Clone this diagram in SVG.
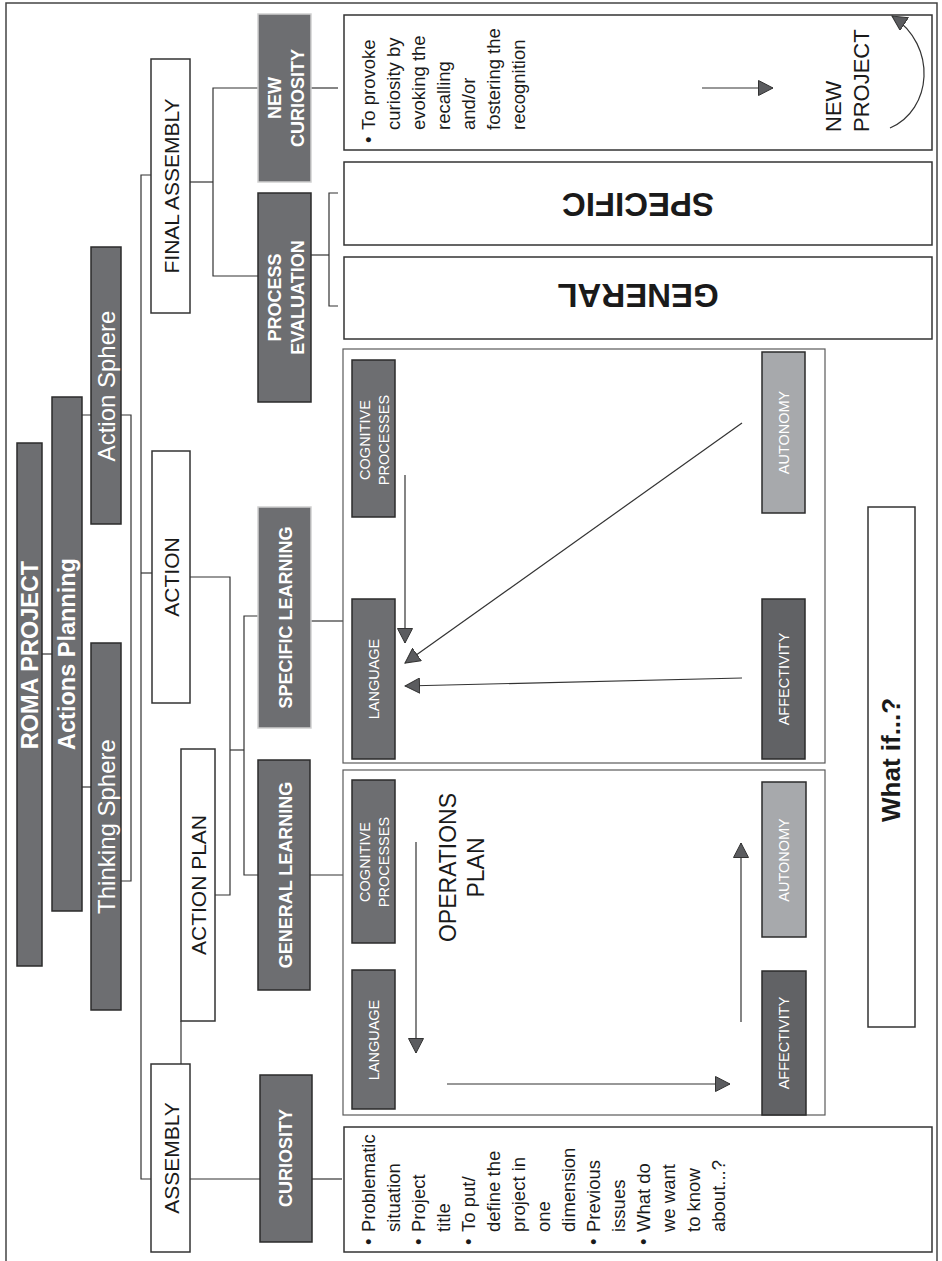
<svg xmlns="http://www.w3.org/2000/svg" width="942" height="1261" viewBox="0 0 942 1261">
<defs>
<style>
.dk{fill:#6d6e71;stroke:#2b2b2b;stroke-width:1.5}
.dkl{fill:#6d6e71;stroke:#cfcfcf;stroke-width:1.5}
.af{fill:#616265;stroke:#2b2b2b;stroke-width:1.5}
.lt{fill:#a7a9ac;stroke:#2b2b2b;stroke-width:1.5}
.wb{fill:#fff;stroke:#333;stroke-width:1.5}
.pn{fill:#fff;stroke:#5a5a5a;stroke-width:1.2}
.cn{fill:none;stroke:#333;stroke-width:1.2}
.ar{fill:none;stroke:#333;stroke-width:1.2;marker-end:url(#ah)}
text{font-family:"Liberation Sans",Arial,Helvetica,sans-serif}
.t1{font-size:23.5px;font-weight:bold;fill:#fff}
.t2{font-size:24px;fill:#fff}
.t3{font-size:21px;fill:#1a1a1a}
.t4{font-size:18px;font-weight:bold;fill:#fff}
.t5{font-size:14.5px;fill:#fff}
.t6{font-size:18.5px;fill:#1a1a1a}
.t7{font-size:33px;font-weight:bold;fill:#1a1a1a}
.t8{font-size:22px;fill:#1a1a1a}
.t9{font-size:23px;fill:#1a1a1a}
.t10{font-size:26px;font-weight:bold;fill:#1a1a1a}
</style>
<marker id="ah" viewBox="0 0 16 16" markerWidth="16" markerHeight="16" refX="15" refY="8" orient="auto" markerUnits="userSpaceOnUse">
<path d="M0.5,0.5 L15,8 L0.5,15.5 Z" fill="#5b5c5f" stroke="#333" stroke-width="1"/>
</marker>
</defs>
<rect x="6" y="3" width="931" height="1262" fill="#fff" stroke="#444" stroke-width="1.5"/>

<g id="connectors">
<path class="cn" d="M42 654 H52"/>
<path class="cn" d="M82 787 H91"/>
<path class="cn" d="M82 415 H131 V881 H121"/>
<path class="cn" d="M151 175 H141 V1179 H151"/>
<path class="cn" d="M141 573 H152"/>
<path class="cn" d="M181 1021 V1064"/>
<path class="cn" d="M190 577 H230 V895 H215"/>
<path class="cn" d="M230 750 H244"/>
<path class="cn" d="M258 616 H244 V875 H258"/>
<path class="cn" d="M311 621 H343"/>
<path class="cn" d="M310 875 H343"/>
<path class="cn" d="M190 1179 H260"/>
<path class="cn" d="M312 1179 H342"/>
<path class="cn" d="M190 182 H213"/>
<path class="cn" d="M258 88 H213 V276 H258"/>
<path class="cn" d="M311 88 H338"/>
<path class="cn" d="M310 255 H329"/>
<path class="cn" d="M338 193 H329 V306 H338"/>
</g>

<g id="roma-project">
<rect class="dk" x="17" y="443" width="25" height="523"/>
<text class="t1" transform="translate(38,655) rotate(-90)" text-anchor="middle">ROMA PROJECT</text>
</g>
<g id="actions-planning">
<rect class="dk" x="52" y="397" width="30" height="514"/>
<text class="t1" transform="translate(75,654) rotate(-90)" text-anchor="middle">Actions Planning</text>
</g>
<g id="thinking-sphere">
<rect class="dk" x="91" y="643" width="30" height="367"/>
<text class="t2" transform="translate(115,826.5) rotate(-90)" text-anchor="middle">Thinking Sphere</text>
</g>
<g id="action-sphere">
<rect class="dk" x="91" y="247" width="30" height="277"/>
<text class="t2" transform="translate(115,386) rotate(-90)" text-anchor="middle">Action Sphere</text>
</g>

<g id="final-assembly">
<rect class="wb" x="151" y="59" width="39" height="254"/>
<text class="t3" transform="translate(179,186) rotate(-90)" text-anchor="middle">FINAL ASSEMBLY</text>
</g>
<g id="action">
<rect class="wb" x="152" y="451" width="38" height="252"/>
<text class="t3" transform="translate(179,577) rotate(-90)" text-anchor="middle">ACTION</text>
</g>
<g id="action-plan">
<rect class="wb" x="181" y="749" width="34" height="272"/>
<text class="t3" transform="translate(206,885) rotate(-90)" text-anchor="middle">ACTION PLAN</text>
</g>
<g id="assembly">
<rect class="wb" x="151" y="1064" width="39" height="188"/>
<text class="t3" transform="translate(179,1158) rotate(-90)" text-anchor="middle">ASSEMBLY</text>
</g>

<g id="new-curiosity">
<rect class="dkl" x="258" y="14" width="53" height="168"/>
<text class="t4" transform="translate(281,98) rotate(-90)" text-anchor="middle">NEW</text>
<text class="t4" transform="translate(304,98) rotate(-90)" text-anchor="middle">CURIOSITY</text>
</g>
<g id="process-evaluation">
<rect class="dk" x="258" y="193" width="53" height="209"/>
<text class="t4" transform="translate(281,297.5) rotate(-90)" text-anchor="middle">PROCESS</text>
<text class="t4" transform="translate(304,297.5) rotate(-90)" text-anchor="middle">EVALUATION</text>
</g>
<g id="specific-learning">
<rect class="dkl" x="258" y="507" width="53" height="221"/>
<text class="t4" transform="translate(292,617.5) rotate(-90)" text-anchor="middle">SPECIFIC LEARNING</text>
</g>
<g id="general-learning">
<rect class="dk" x="258" y="760" width="52" height="230"/>
<text class="t4" transform="translate(292,875) rotate(-90)" text-anchor="middle">GENERAL LEARNING</text>
</g>
<g id="curiosity">
<rect class="dk" x="260" y="1075" width="52" height="167"/>
<text class="t4" transform="translate(292,1158) rotate(-90)" text-anchor="middle">CURIOSITY</text>
</g>

<g id="new-curiosity-text">
<rect class="wb" x="344" y="15" width="588" height="135"/>
<text class="t6" transform="translate(375,143) rotate(-90)">•</text>
<text class="t6" transform="translate(375,130) rotate(-90)">To provoke</text>
<text class="t6" transform="translate(400,130) rotate(-90)">curiosity by</text>
<text class="t6" transform="translate(425,130) rotate(-90)">evoking the</text>
<text class="t6" transform="translate(450,130) rotate(-90)">recalling</text>
<text class="t6" transform="translate(475,130) rotate(-90)">and/or</text>
<text class="t6" transform="translate(500,130) rotate(-90)">fostering the</text>
<text class="t6" transform="translate(525,130) rotate(-90)">recognition</text>
<path class="ar" d="M702 88 H773"/>
<text class="t8" transform="translate(841,132) rotate(-90)">NEW</text>
<text class="t8" transform="translate(869,132) rotate(-90)">PROJECT</text>
<path class="ar" d="M890 128 C932 110 938 46 892 16"/>
</g>
<g id="specific-eval">
<rect class="wb" x="344" y="162" width="588" height="83"/>
<text class="t7" transform="translate(638,205) rotate(180)" text-anchor="middle" y="12">SPECIFIC</text>
</g>
<g id="general-eval">
<rect class="wb" x="344" y="257" width="588" height="82"/>
<text class="t7" transform="translate(638,296) rotate(180)" text-anchor="middle" y="12">GENERAL</text>
</g>

<g id="specific-panel">
<rect class="pn" x="343" y="349" width="482" height="414"/>
<rect class="dk" x="352" y="360" width="43" height="157"/>
<text class="t5" transform="translate(370,440) rotate(-90)" text-anchor="middle">COGNITIVE</text>
<text class="t5" transform="translate(389,440) rotate(-90)" text-anchor="middle">PROCESSES</text>
<rect class="dk" x="352" y="599" width="43" height="160"/>
<text class="t5" transform="translate(379,679) rotate(-90)" text-anchor="middle">LANGUAGE</text>
<rect class="lt" x="762" y="352" width="43" height="161"/>
<text class="t5" transform="translate(789,432.5) rotate(-90)" text-anchor="middle" fill="#f2f2f2">AUTONOMY</text>
<rect class="af" x="762" y="599" width="43" height="160"/>
<text class="t5" transform="translate(789,679) rotate(-90)" text-anchor="middle">AFFECTIVITY</text>
<path class="ar" d="M405 475 V643"/>
<path class="ar" d="M742 423 L405 663"/>
<path class="ar" d="M742 678 L405 686"/>
</g>

<g id="general-panel">
<rect class="pn" x="343" y="770" width="482" height="345"/>
<rect class="dk" x="352" y="780" width="43" height="163"/>
<text class="t5" transform="translate(370,862) rotate(-90)" text-anchor="middle">COGNITIVE</text>
<text class="t5" transform="translate(389,862) rotate(-90)" text-anchor="middle">PROCESSES</text>
<rect class="dk" x="352" y="970" width="43" height="139"/>
<text class="t5" transform="translate(379,1040) rotate(-90)" text-anchor="middle">LANGUAGE</text>
<rect class="lt" x="762" y="782" width="44" height="155"/>
<text class="t5" transform="translate(789,860) rotate(-90)" text-anchor="middle" fill="#f2f2f2">AUTONOMY</text>
<rect class="af" x="762" y="971" width="44" height="144"/>
<text class="t5" transform="translate(789,1043) rotate(-90)" text-anchor="middle">AFFECTIVITY</text>
<text class="t9" transform="translate(456,867.5) rotate(-90)" text-anchor="middle">OPERATIONS</text>
<text class="t9" transform="translate(484,867.5) rotate(-90)" text-anchor="middle">PLAN</text>
<path class="ar" d="M416 842 V1053"/>
<path class="ar" d="M447 1084 H730"/>
<path class="ar" d="M741 1022 V843"/>
</g>

<g id="what-if">
<rect class="wb" x="868" y="507" width="47" height="520"/>
<text class="t10" transform="translate(900,822) rotate(-90)">What if...?</text>
</g>

<g id="curiosity-text">
<rect class="wb" x="344" y="1127" width="588" height="125"/>
<text class="t6" transform="translate(375,1245) rotate(-90)">•</text>
<text class="t6" transform="translate(375,1232) rotate(-90)">Problematic</text>
<text class="t6" transform="translate(400,1232) rotate(-90)">situation</text>
<text class="t6" transform="translate(425,1245) rotate(-90)">•</text>
<text class="t6" transform="translate(425,1232) rotate(-90)">Project</text>
<text class="t6" transform="translate(450,1232) rotate(-90)">title</text>
<text class="t6" transform="translate(475,1245) rotate(-90)">•</text>
<text class="t6" transform="translate(475,1232) rotate(-90)">To put/</text>
<text class="t6" transform="translate(500,1232) rotate(-90)">define the</text>
<text class="t6" transform="translate(525,1232) rotate(-90)">project in</text>
<text class="t6" transform="translate(550,1232) rotate(-90)">one</text>
<text class="t6" transform="translate(575,1232) rotate(-90)">dimension</text>
<text class="t6" transform="translate(600,1245) rotate(-90)">•</text>
<text class="t6" transform="translate(600,1232) rotate(-90)">Previous</text>
<text class="t6" transform="translate(625,1232) rotate(-90)">issues</text>
<text class="t6" transform="translate(650,1245) rotate(-90)">•</text>
<text class="t6" transform="translate(650,1232) rotate(-90)">What do</text>
<text class="t6" transform="translate(675,1232) rotate(-90)">we want</text>
<text class="t6" transform="translate(700,1232) rotate(-90)">to know</text>
<text class="t6" transform="translate(725,1232) rotate(-90)">about...?</text>
</g>
</svg>
